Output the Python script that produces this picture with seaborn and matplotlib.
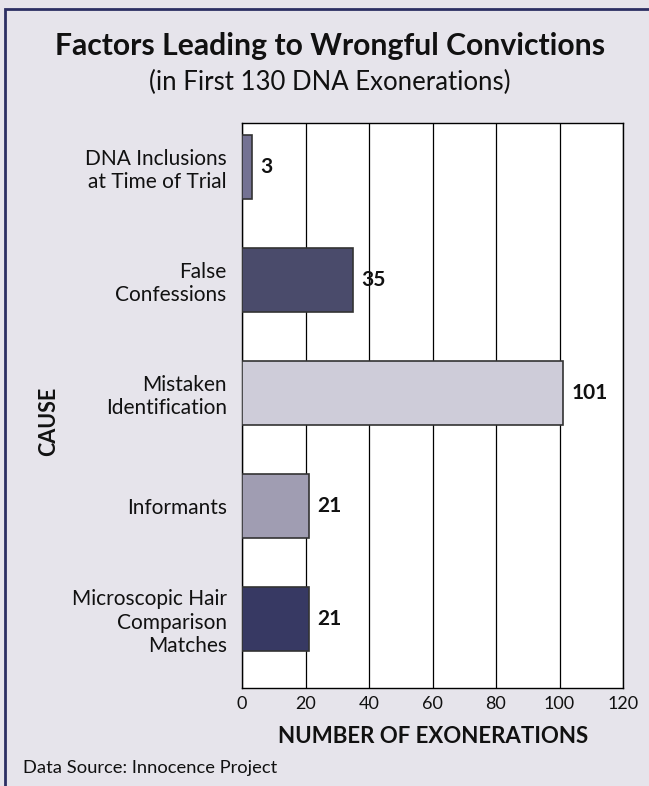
import pandas as pd
import seaborn as sns
import matplotlib.pyplot as plt
from matplotlib.patches import Rectangle

causes = ['DNA Inclusions\nat Time of Trial', 'False\nConfessions', 'Mistaken\nIdentification',
          'Informants', 'Microscopic Hair\nComparison\nMatches']
counts = [3, 35, 101, 21, 21]
colors = ['#6f6d98', '#454670', '#cdcadb', '#9d9ab5', '#30336a']
xticks = [0, 20, 40, 60, 80, 100, 120]

df = pd.DataFrame({'cause': causes, 'count': counts})

sns.set_theme(style='white')
plt.rcParams['font.family'] = ['Lato', 'DejaVu Sans']

W, H = 649, 786
bg = '#e6e4eb'
fig = plt.figure(figsize=(W / 100, H / 100), dpi=100, facecolor=bg)
ax = fig.add_axes([242 / W, 1 - 688 / H, 381 / W, 565 / H])
ax.set_facecolor('white')

sns.barplot(data=df, x='count', y='cause', hue='cause', palette=colors, legend=False,
            width=0.56, edgecolor='#333333', linewidth=1.2, ax=ax, zorder=3)

ax.set_xlim(0, 120)
ax.set_ylim(4.61, -0.39)
ax.set_xticks(xticks)
ax.xaxis.grid(True, color='black', linewidth=0.9, zorder=0)
ax.set_axisbelow(True)
for s in ax.spines.values():
    s.set_color('black')
    s.set_linewidth(1.0)
ax.tick_params(axis='x', labelsize=13, length=0, pad=6, colors='#111111')
ax.tick_params(axis='y', labelsize=15, length=0, pad=11, colors='#111111')

for i, v in enumerate(counts):
    ax.text(v + 2.7, i, str(v), va='center', ha='left', fontsize=15,
            fontweight='bold', color='#111111', zorder=4)

ax.set_xlabel('')
ax.set_ylabel('')
fig.text(433 / W, 1 - 743 / H, 'NUMBER OF EXONERATIONS', ha='center', va='baseline',
         fontsize=16, fontweight='bold', color='#111111')
fig.text(49 / W, 1 - 421 / H, 'CAUSE', rotation=90, ha='center', va='center',
         fontsize=15.5, fontweight='bold', color='#111111')

fig.text(330 / W, 1 - 55 / H, 'Factors Leading to Wrongful Convictions', ha='center',
         va='baseline', fontsize=21.7, fontweight='bold', color='#111111')
fig.text(330 / W, 1 - 90 / H, '(in First 130 DNA Exonerations)', ha='center',
         va='baseline', fontsize=18.5, color='#111111')
fig.text(23 / W, 1 - 773 / H, 'Data Source: Innocence Project', ha='left',
         va='baseline', fontsize=13.2, color='#111111')

fig.patches.append(Rectangle((5 / W, -0.05), 1.0, 1 - 9 / H + 0.05,
                             transform=fig.transFigure, fill=False,
                             edgecolor='#2c2f63', linewidth=2))

fig.savefig('out.png', dpi=100, facecolor=bg)
